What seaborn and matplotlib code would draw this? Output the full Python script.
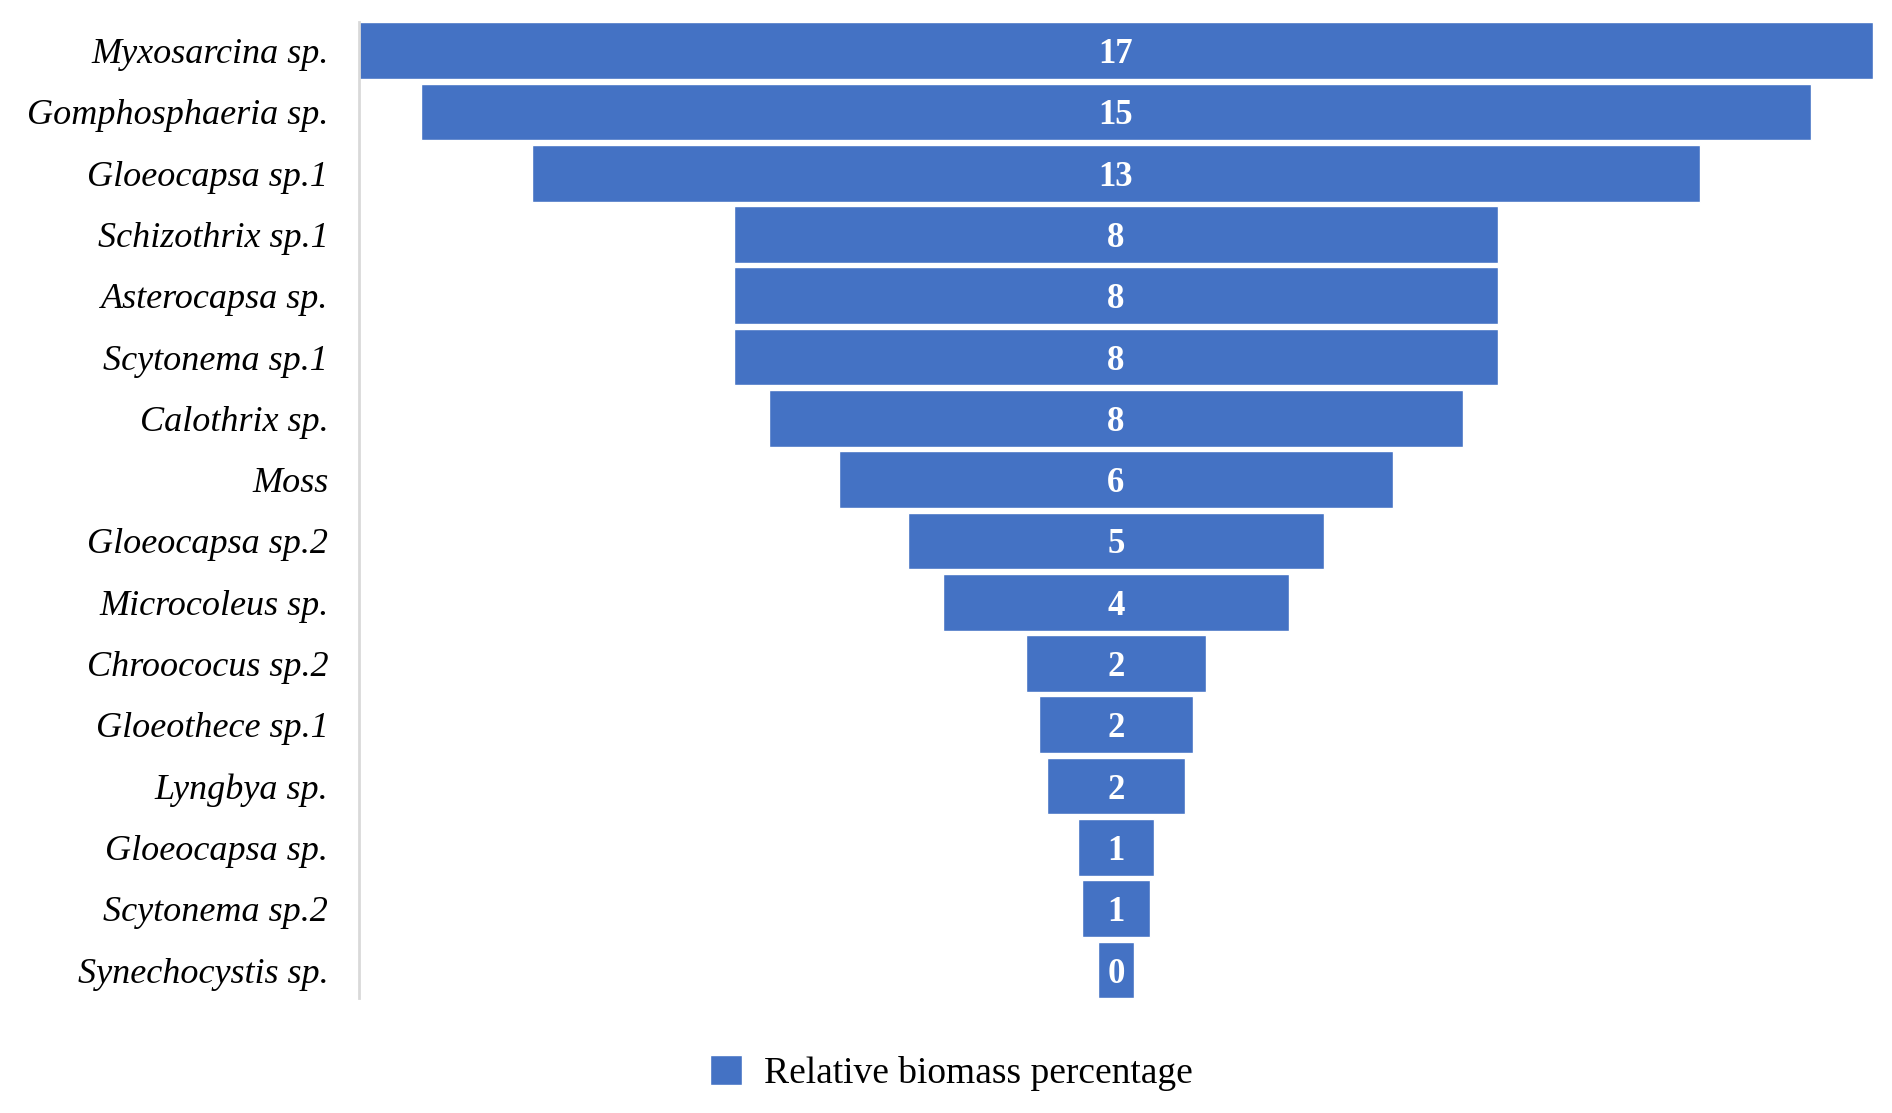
import numpy as np
import pandas as pd
import matplotlib
matplotlib.use("Agg")
import matplotlib.pyplot as plt
from matplotlib.patches import Patch
import seaborn as sns

# ============ DATA ============
species = [
    "Myxosarcina sp.", "Gomphosphaeria sp.", "Gloeocapsa sp.1", "Schizothrix sp.1",
    "Asterocapsa sp.", "Scytonema sp.1", "Calothrix sp.", "Moss",
    "Gloeocapsa sp.2", "Microcoleus sp.", "Chroococus sp.2", "Gloeothece sp.1",
    "Lyngbya sp.", "Gloeocapsa sp.", "Scytonema sp.2", "Synechocystis sp.",
]
biomass = [16.72, 15.35, 12.89, 8.44, 8.44, 8.44, 7.67, 6.12,
           4.60, 3.83, 1.99, 1.69, 1.53, 0.84, 0.76, 0.39]
legend_label = "Relative biomass percentage"

BLUE = "#4472C4"
BAR_W = 0.925

df = pd.DataFrame({"species": species, "biomass": biomass})

# ============ PLOT ============
sns.set_theme(style="white")
plt.rcParams["font.family"] = ["Liberation Serif", "DejaVu Serif"]
plt.rcParams["text.color"] = "black"
plt.rcParams["ytick.color"] = "black"

fig = plt.figure(figsize=(18.92, 11.13), dpi=100)
ax = fig.add_axes([0.1897, 0.103, 0.8003, 0.877])

sns.barplot(data=df, x="biomass", y="species", orient="h", color=BLUE,
            saturation=1, width=BAR_W, ax=ax)

# centre every bar to get the funnel shape
vmax = max(biomass)
for bar in ax.containers[0]:
    w = bar.get_width()
    bar.set_x((vmax - w) / 2)

texts = ax.bar_label(ax.containers[0], labels=[f"{v:.0f}" for v in biomass],
                     label_type="center", color="white", fontweight="bold", fontsize=25)
for t in texts:
    t.set_va("center_baseline")

ax.set_xlim(0, vmax)
ax.set_ylim(len(species) - 1 + BAR_W / 2, -BAR_W / 2)
ax.set_xlabel("")
ax.set_ylabel("")
ax.set_xticks([])
ax.tick_params(axis="y", length=0, pad=22, labelcolor="black")
for lbl in ax.get_yticklabels():
    lbl.set_fontstyle("italic")
    lbl.set_fontsize(26)

for side in ["top", "right", "bottom"]:
    ax.spines[side].set_visible(False)
ax.spines["left"].set_color("#D9D9D9")
ax.spines["left"].set_linewidth(2)

fig.legend(handles=[Patch(facecolor=BLUE, label=legend_label)],
           loc="center", bbox_to_anchor=(0.503, 0.036), frameon=False,
           fontsize=27, handlelength=0.85, handleheight=0.85, handletextpad=0.6)

fig.savefig("out.png", dpi=100)
plt.close(fig)
